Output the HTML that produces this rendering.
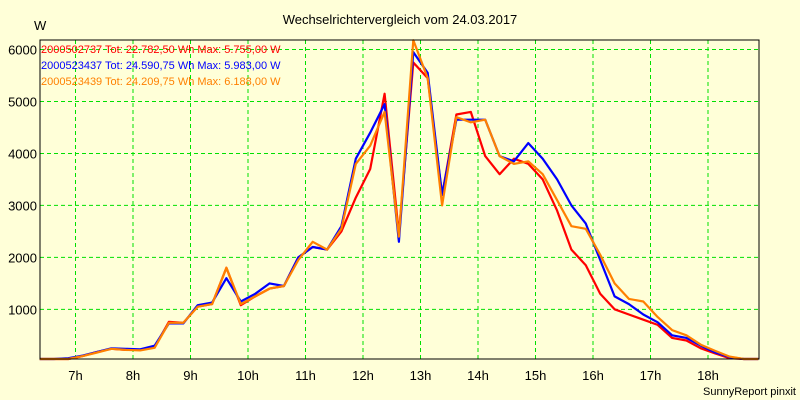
<!DOCTYPE html>
<html><head><meta charset="utf-8"><style>
body{margin:0;background:#ffffd8;}
svg{display:block;font-family:"Liberation Sans",sans-serif;}
</style></head><body>
<svg id="chart" width="800" height="400">
<rect width="800" height="400" fill="#ffffd8"/>
<text x="400" y="24" font-size="13" text-anchor="middle">Wechselrichtervergleich vom 24.03.2017</text>
<text x="34" y="30" font-size="13">W</text>
<text x="796" y="395" font-size="11" text-anchor="end">SunnyReport pinxit</text>
<g id="grid"></g><g id="lines"></g>
<rect x="40" y="40" width="719" height="319" fill="none" stroke="#000" stroke-width="1"/>
<g id="axes"></g>
<g font-size="11">
<text x="41" y="53" fill="#ff0000">2000502737 Tot: 22.782,50 Wh Max: 5.755,00 W</text>
<text x="41" y="69" fill="#0000ff">2000523437 Tot: 24.590,75 Wh Max: 5.983,00 W</text>
<text x="41" y="85" fill="#ff8000">2000523439 Tot: 24.209,75 Wh Max: 6.188,00 W</text>
</g>
</svg>
<script>
const times=[6.375,6.625,6.875,7.125,7.375,7.625,7.875,8.125,8.375,8.625,8.875,9.125,9.375,9.625,9.875,10.125,10.375,10.625,10.875,11.125,11.375,11.625,11.875,12.125,12.375,12.625,12.875,13.125,13.375,13.625,13.875,14.125,14.375,14.625,14.875,15.125,15.375,15.625,15.875,16.125,16.375,16.625,16.875,17.125,17.375,17.625,17.875,18.125,18.375,18.625,18.875];
const red=[0,0,40,100,180,240,220,220,270,760,740,1050,1100,1800,1080,1250,1400,1450,2000,2200,2150,2500,3150,3700,5150,2450,5750,5450,3200,4750,4800,3950,3600,3900,3800,3500,2900,2150,1850,1300,1000,900,800,700,450,400,250,150,60,0,0];
const blue=[0,0,60,110,180,250,240,230,300,730,730,1080,1130,1600,1150,1300,1500,1450,2000,2200,2150,2600,3900,4400,4950,2300,5950,5550,3200,4650,4650,4650,3950,3850,4200,3900,3500,3000,2650,1950,1250,1100,900,750,500,450,300,170,80,0,0];
const orange=[0,0,40,100,170,240,220,210,260,740,740,1050,1100,1800,1100,1250,1400,1450,1950,2300,2150,2550,3800,4150,4800,2400,6180,5450,3000,4700,4600,4650,3950,3800,3850,3600,3100,2600,2550,2050,1500,1200,1150,850,600,500,320,200,90,0,0];
const yTicks=[1000,2000,3000,4000,5000,6000];
const xTicks=[7,8,9,10,11,12,13,14,15,16,17,18];
const xs=t=>75.5+(t-7)*57.5;
const ys=v=>361.3-v*0.05196;
const NS="http://www.w3.org/2000/svg";
const grid=document.getElementById('grid'),axes=document.getElementById('axes'),lines=document.getElementById('lines');
function mk(tag,attrs,parent){const e=document.createElementNS(NS,tag);for(const k in attrs)e.setAttribute(k,attrs[k]);parent.appendChild(e);return e;}
yTicks.forEach(v=>{
 const l=mk('line',{x1:40,x2:759,y1:ys(v),y2:ys(v),stroke:'#00e000','stroke-dasharray':'4,3'},grid);
 
 
 const t=mk('text',{x:37,y:ys(v)+5,'font-size':13,'text-anchor':'end'},axes);
 t.textContent=v;
 
 
});
xTicks.forEach(h=>{
 const l=mk('line',{x1:xs(h),x2:xs(h),y1:40,y2:359,stroke:'#00e000','stroke-dasharray':'4,3'},grid);
 
 
 const t=mk('text',{x:xs(h),y:380,'font-size':13,'text-anchor':'middle'},axes);
 t.textContent=h+'h';
 
 
});
[[red,'#ff0000','series-2000502737'],[blue,'#0000ff','series-2000523437'],[orange,'#ff8000','series-2000523439']].forEach(([vals,c,n])=>{
 const pts=times.map((t,i)=>xs(t).toFixed(1)+','+Math.min(359,ys(vals[i])).toFixed(1)).join(' ');
 const p=mk('polyline',{points:pts,fill:'none',stroke:c,'stroke-width':2.2,'stroke-linejoin':'round'},lines);
 
 
});
</script>
</body></html>
